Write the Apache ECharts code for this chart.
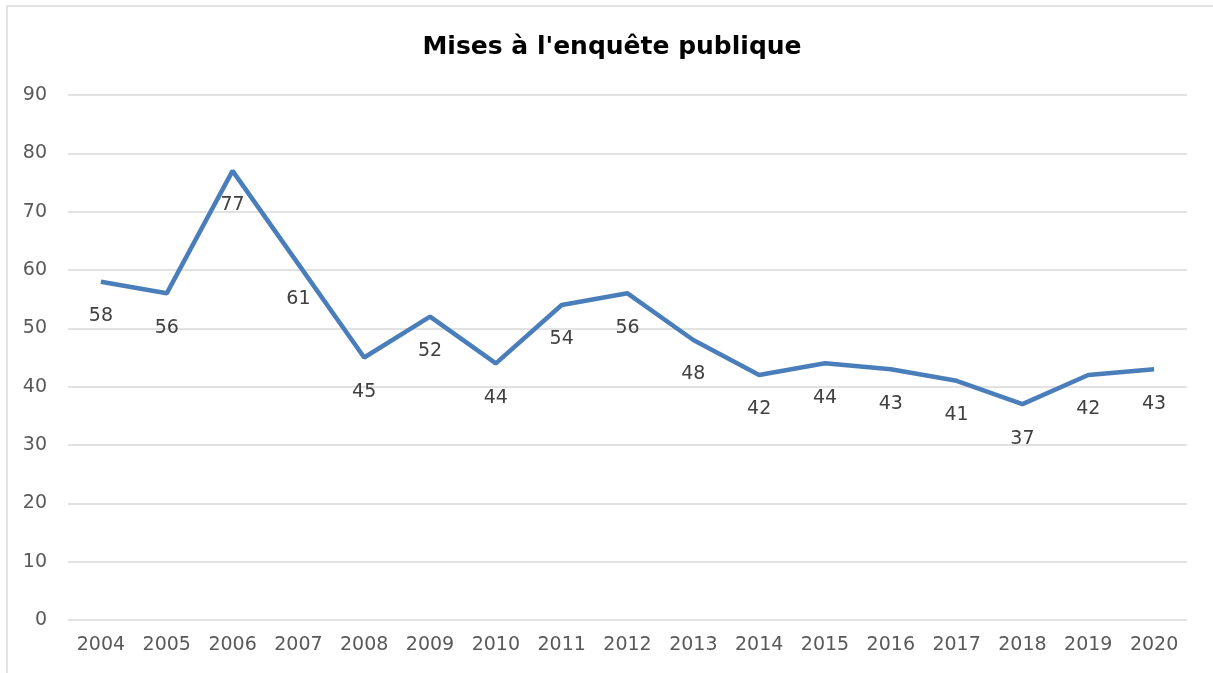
<!DOCTYPE html>
<html>
<head>
<meta charset="utf-8">
<script src="https://cdn.jsdelivr.net/npm/echarts@6/dist/echarts.min.js"></script>
<style>
html, body { margin: 0; padding: 0; background: #fff; }
#chart { width: 1213px; height: 673px; }
</style>
</head>
<body>
<div id="chart"></div>
<script>
var years = ['2004', '2005', '2006', '2007', '2008', '2009', '2010', '2011', '2012',
    '2013', '2014', '2015', '2016', '2017', '2018', '2019', '2020'];
var counts = [58, 56, 77, 61, 45, 52, 44, 54, 56, 48, 42, 44, 43, 41, 37, 42, 43];

var myChart = echarts.init(document.getElementById('chart'));
var font = 'DejaVu Sans';

var option = {
    backgroundColor: '#fff',
    textStyle: { fontFamily: font },
    title: {
        text: "Mises à l'enquête publique",
        left: 607,
        textAlign: 'center',
        top: 30,
        textStyle: { fontFamily: font, fontSize: 25, fontWeight: 'bold', color: '#000' }
    },
    graphic: [{
        type: 'rect',
        shape: { x: 7, y: 6, width: 1230, height: 700 },
        style: { fill: 'none', stroke: '#d9d9d9', lineWidth: 1.5 },
        silent: true
    }],
    grid: { left: 68, right: 26, top: 95, bottom: 53 },
    xAxis: {
        type: 'category',
        data: years,
        axisLine: { show: false },
        axisTick: { show: false },
        axisLabel: { color: '#595959', fontSize: 19, margin: 16, fontFamily: font }
    },
    yAxis: {
        type: 'value',
        min: 0,
        max: 90,
        interval: 10,
        axisLine: { show: false },
        axisTick: { show: false },
        axisLabel: { color: '#595959', fontSize: 19, margin: 21, fontFamily: font },
        splitLine: { lineStyle: { color: '#d9d9d9', width: 1.5 } }
    },
    series: [{
        type: 'line',
        data: counts,
        symbol: 'circle',
        symbolSize: 0,
        showSymbol: true,
        lineStyle: { color: '#4a7ebb', width: 4.5 },
        itemStyle: { color: '#4a7ebb' },
        label: {
            show: true,
            position: 'bottom',
            distance: 25,
            color: '#404040',
            fontSize: 19,
            fontFamily: font
        }
    }]
};

myChart.setOption(option);
</script>
</body>
</html>
